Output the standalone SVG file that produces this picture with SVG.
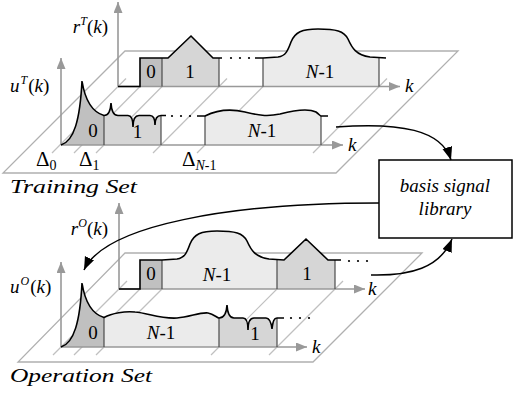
<svg xmlns="http://www.w3.org/2000/svg" width="513" height="399" viewBox="0 0 513 399" font-family="Liberation Serif, serif">
<style>
text{font-family:"Liberation Serif",serif;font-size:19px;fill:#000}
.it{font-style:italic}
.plane{fill:none;stroke:#b0b0b0;stroke-width:1.3}
.grid{stroke:#c0c0c0;stroke-width:1.2}
.axis{stroke:#999;stroke-width:1.6;fill:none;marker-end:url(#ga)}
.b0{fill:#c0c0c0}
.b1{fill:#d6d6d6}
.bn{fill:#ebebeb}
.div{stroke:#4a4a4a;stroke-width:1.2}
.sig{fill:none;stroke:#000;stroke-width:1.6;stroke-linejoin:miter}
.dot{fill:#000}
.conn{fill:none;stroke:#000;stroke-width:1.5;marker-end:url(#ba)}
.c{text-anchor:middle}
.d{font-size:21px}
</style>
<defs>
<marker id="ga" markerUnits="userSpaceOnUse" markerWidth="12" markerHeight="10" refX="11" refY="4.5" orient="auto"><path d="M0,0 L11,4.5 L0,9 z" fill="#999"/></marker>
<marker id="ba" markerUnits="userSpaceOnUse" markerWidth="14" markerHeight="12" refX="13" refY="5" orient="auto"><path d="M0,0 L13,5 L0,10 z" fill="#000"/></marker>
</defs>

<g id="training-set">
<polygon class="plane" points="125,51 458,51 336,173 3,173"/>
<g class="grid">
<line x1="126" y1="78.5" x2="52" y2="153"/>
<line x1="148" y1="78.5" x2="74" y2="153"/>
<line x1="170" y1="78.5" x2="96" y2="153"/>
<line x1="227" y1="78.5" x2="153" y2="153"/>
<line x1="271" y1="78.5" x2="197" y2="153"/>
<line x1="387" y1="78.5" x2="313" y2="153"/>
</g>
<rect class="b0" x="140" y="58" width="22" height="28.5"/>
<polygon class="b1" points="162,86.5 162,58 168,58 191,36 213,58 219,58 219,86.5"/>
<path class="bn" d="M263,86.5 L263,58 L278,57 C286,56 288,50 291,42 C295,32 302,29 318,29 C336,29 344,31 348,39 C352,48 356,55 370,57 L379,58 L379,86.5 Z"/>
<line class="axis" x1="118" y1="86.5" x2="118" y2="2"/>
<line class="axis" x1="118" y1="86.5" x2="400" y2="86.5"/>
<g class="div">
<line x1="162" y1="58" x2="162" y2="86.5"/>
<line x1="219" y1="58" x2="219" y2="86.5"/>
<line x1="263" y1="58" x2="263" y2="86.5"/>
<line x1="379" y1="58" x2="379" y2="86.5"/>
</g>
<path class="sig" d="M118,86.5 L140,86.5 L140,58 L168,58 L191,36 L213,58 L222,58 M255,58 L263,58 L278,57 C286,56 288,50 291,42 C295,32 302,29 318,29 C336,29 344,31 348,39 C352,48 356,55 370,57 L386,58"/>
<circle class="dot" cx="231" cy="58" r="1.1"/><circle class="dot" cx="240" cy="58" r="1.1"/><circle class="dot" cx="249" cy="58" r="1.1"/>
<text x="151" y="78" class="c">0</text>
<text x="190" y="78" class="c">1</text>
<text x="320" y="78" class="c"><tspan class="it">N</tspan>-1</text>
<text x="108" y="33" text-anchor="end"><tspan class="it">r</tspan><tspan class="it" font-size="12" dy="-8">T</tspan><tspan dy="8">(</tspan><tspan class="it">k</tspan>)</text>
<text x="405" y="92" class="it">k</text>
<path class="b0" d="M61,145 C74,141 80,120 82,81 C85,100 92,112 104,115.5 L104,145 Z"/>
<path class="b1" d="M104,145 L104,115.5 C108,115.5 110.5,112 111,103 C111.5,112 114,115.5 118,115.5 L128,115.5 C131,115.5 133,119 133,127 C133,119 135,115.5 139,115.5 L150,115.5 C153,115.5 155,118 155,125 C155,118 157,115.5 161,115.5 L161,145 Z"/>
<path class="bn" d="M205,145 L205,116 C215,111 228,108 245,112 C258,115 266,117 280,114 C295,110 308,108 316,112 C319,114 320,116 321,116 L321,145 Z"/>
<line class="axis" x1="61" y1="145" x2="61" y2="58"/>
<line class="axis" x1="61" y1="145" x2="343" y2="145"/>
<g class="div">
<line x1="104" y1="115.5" x2="104" y2="145"/>
<line x1="161" y1="115.5" x2="161" y2="145"/>
<line x1="205" y1="116" x2="205" y2="145"/>
<line x1="321" y1="116" x2="321" y2="145"/>
</g>
<path class="sig" d="M61,145 C74,141 80,120 82,81 C85,100 92,112 104,115.5 C108,115.5 110.5,112 111,103 C111.5,112 114,115.5 118,115.5 L128,115.5 C131,115.5 133,119 133,127 C133,119 135,115.5 139,115.5 L150,115.5 C153,115.5 155,118 155,125 C155,118 157,115.5 161,115.5 L166,115.5 M197,116 L205,116 C215,111 228,108 245,112 C258,115 266,117 280,114 C295,110 308,108 316,112 C319,114 320,116 321,116 L328,116"/>
<circle class="dot" cx="172" cy="116" r="1.1"/><circle class="dot" cx="181" cy="116" r="1.1"/><circle class="dot" cx="190" cy="116" r="1.1"/>
<text x="93" y="137" class="c">0</text>
<text x="137.5" y="138" class="c">1</text>
<text x="262" y="137" class="c"><tspan class="it">N</tspan>-1</text>
<text x="10" y="92"><tspan class="it">u</tspan><tspan class="it" font-size="12" dy="-8" dx="1">T</tspan><tspan dy="8" dx="1">(</tspan><tspan class="it">k</tspan>)</text>
<text x="348" y="151" class="it">k</text>
<text x="36" y="166" class="d">Δ<tspan font-size="14" dy="4">0</tspan></text>
<text x="79" y="166" class="d">Δ<tspan font-size="14" dy="4">1</tspan></text>
<text x="182" y="166" class="d">Δ<tspan font-size="14" dy="4"><tspan class="it">N</tspan>-1</tspan></text>
<text x="10" y="193" class="it" font-size="21" textLength="127" lengthAdjust="spacingAndGlyphs">Training Set</text>
</g>

<g id="operation-set">
<polygon class="plane" points="125,253 422,253 313,362 18,362"/>
<g class="grid">
<line x1="127" y1="281" x2="53" y2="355"/>
<line x1="148" y1="281" x2="74" y2="355"/>
<line x1="170" y1="281" x2="96" y2="355"/>
<line x1="285" y1="281" x2="211" y2="355"/>
<line x1="343" y1="281" x2="269" y2="355"/>
</g>
<rect class="b0" x="140" y="260" width="22" height="29"/>
<path class="bn" d="M162,289 L162,260 L177,259 C185,258 187,252 190,244 C194,234 201,231 217,231 C235,231 243,233 247,241 C251,250 255,257 269,259 L277,260 L277,289 Z"/>
<polygon class="b1" points="277,289 277,260 284,260 306,239 328,260 335,260 335,289"/>
<line class="axis" x1="119" y1="289" x2="119" y2="203"/>
<line class="axis" x1="119" y1="289" x2="365" y2="289"/>
<g class="div">
<line x1="162" y1="260" x2="162" y2="289"/>
<line x1="277" y1="260" x2="277" y2="289"/>
<line x1="335" y1="260" x2="335" y2="289"/>
</g>
<path class="sig" d="M119,289 L140,289 L140,260 L162,260 L177,259 C185,258 187,252 190,244 C194,234 201,231 217,231 C235,231 243,233 247,241 C251,250 255,257 269,259 L284,260 L306,239 L328,260 L341,260"/>
<circle class="dot" cx="349" cy="261" r="1.1"/><circle class="dot" cx="358" cy="261" r="1.1"/><circle class="dot" cx="367" cy="261" r="1.1"/>
<text x="151" y="280" class="c">0</text>
<text x="217" y="281" class="c"><tspan class="it">N</tspan>-1</text>
<text x="307" y="280" class="c">1</text>
<text x="108" y="235" text-anchor="end"><tspan class="it">r</tspan><tspan class="it" font-size="12" dy="-8">O</tspan><tspan dy="8">(</tspan><tspan class="it">k</tspan>)</text>
<text x="368" y="295" class="it">k</text>
<path class="b0" d="M61,347 C74,343 80,322 82,283 C85,302 92,314 104,317.5 L104,347 Z"/>
<path class="bn" d="M104,347 L104,317.5 C112,313 125,311 135,312 C148,313 160,319 177,318 C190,317 200,312 208,313 C214,314 217,318 219,318 L219,347 Z"/>
<path class="b1" d="M219,347 L219,318 C224,318 226.5,314 227,305 C227.5,314 230,318 234,318 L243,318 C246,318 248,321.5 248,330 C248,321.5 250,318 254,318 L266,318 C269,318 271,321 272,329 C273,321 274,318 277,318 L277,347 Z"/>
<line class="axis" x1="61" y1="347" x2="61" y2="262"/>
<line class="axis" x1="61" y1="347" x2="307" y2="347"/>
<g class="div">
<line x1="104" y1="317.5" x2="104" y2="347"/>
<line x1="219" y1="318" x2="219" y2="347"/>
<line x1="277" y1="318" x2="277" y2="347"/>
</g>
<path class="sig" d="M61,347 C74,343 80,322 82,283 C85,302 92,314 104,317.5 C112,313 125,311 135,312 C148,313 160,319 177,318 C190,317 200,312 208,313 C214,314 217,318 219,318 C224,318 226.5,314 227,305 C227.5,314 230,318 234,318 L243,318 C246,318 248,321.5 248,330 C248,321.5 250,318 254,318 L266,318 C269,318 271,321 272,329 C273,321 274,318 277,318 L284,318"/>
<circle class="dot" cx="291" cy="318" r="1.1"/><circle class="dot" cx="300" cy="318" r="1.1"/><circle class="dot" cx="309" cy="318" r="1.1"/>
<text x="93" y="339" class="c">0</text>
<text x="161" y="339" class="c"><tspan class="it">N</tspan>-1</text>
<text x="255" y="340" class="c">1</text>
<text x="10" y="293"><tspan class="it">u</tspan><tspan class="it" font-size="12" dy="-8" dx="1">O</tspan><tspan dy="8" dx="1">(</tspan><tspan class="it">k</tspan>)</text>
<text x="312" y="353" class="it">k</text>
<text x="10" y="382" class="it" font-size="21" textLength="142" lengthAdjust="spacingAndGlyphs">Operation Set</text>
</g>

<g id="library">
<rect x="379" y="160" width="133" height="78" fill="#fff" stroke="#000" stroke-width="1.5"/>
<text x="445" y="192" class="it c">basis signal</text>
<text x="445" y="215" class="it c">library</text>
</g>

<g id="connectors">
<path class="conn" d="M336,127 C400,122 442,130 451,160"/>
<path class="conn" d="M379,203 C230,203 105,225 84,270"/>
<path class="conn" d="M371,275 C410,276 440,268 452,239"/>
</g>
</svg>
